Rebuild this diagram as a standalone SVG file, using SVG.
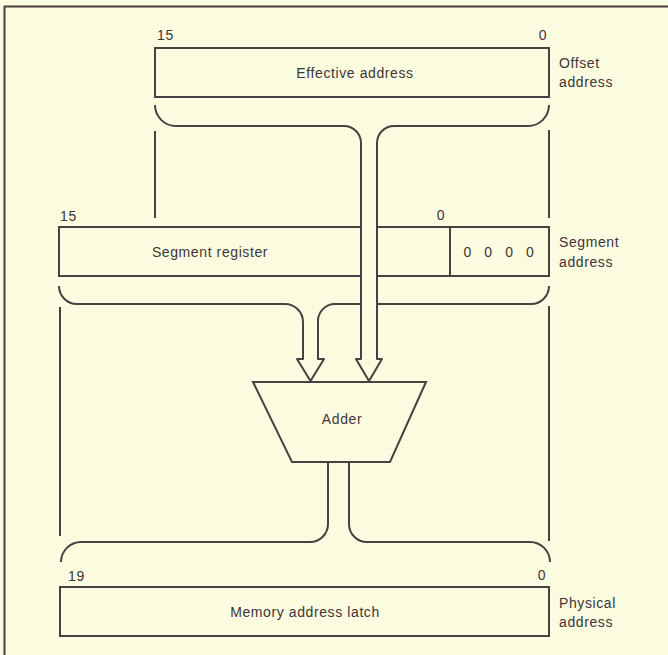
<svg xmlns="http://www.w3.org/2000/svg" width="668" height="655" viewBox="0 0 668 655">
<style>
.ln{fill:none;stroke:#4a3f41;stroke-width:2;stroke-linejoin:round}
.bx{fill:none;stroke:#4a3f41;stroke-width:2}
.t{font-family:"Liberation Sans",Arial,sans-serif;font-size:14px;fill:#3f3537;letter-spacing:0.6px}
.m{text-anchor:middle}
</style>
<rect width="668" height="655" fill="#fbfbe0"/>
<path class="ln" d="M4.5,655 V6.5 H668"/>

<g id="effective-address">
<rect class="bx" x="155" y="48" width="394" height="49"/>
<text class="t m" x="355" y="78">Effective address</text>
<text class="t" x="157" y="40">15</text>
<text class="t m" x="543" y="40">0</text>
<text class="t" x="559" y="68">Offset</text>
<text class="t" x="559" y="87">address</text>
</g>

<g id="segment-register">
<path class="bx" d="M59,227 H361 M377,227 H549 M59,276 H361 M377,276 H549 M59,226 V277 M549,226 V277 M450,227 V276"/>
<text class="t m" x="210" y="257">Segment register</text>
<text class="t" x="501" y="257" style="letter-spacing:4.6px" text-anchor="middle">0 0 0 0</text>
<text class="t" x="60" y="221">15</text>
<text class="t m" x="441" y="220">0</text>
<text class="t" x="559" y="247">Segment</text>
<text class="t" x="559" y="267">address</text>
</g>

<g id="adder">
<polygon class="bx" points="253,382 426,382 390,462 292,462"/>
<text class="t m" x="342" y="424">Adder</text>
</g>

<g id="memory-address-latch">
<rect class="bx" x="60" y="587" width="489" height="49"/>
<text class="t m" x="305" y="617">Memory address latch</text>
<text class="t" x="68" y="581">19</text>
<text class="t m" x="542" y="580">0</text>
<text class="t" x="559" y="608">Physical</text>
<text class="t" x="559" y="627">address</text>
</g>

<g id="connectors">
<!-- effective address brace and arrow -->
<path class="ln" d="M155,105 A21,21 0 0 0 176,126 H344 A17,17 0 0 1 361,143 V359 H356 L369,381 L382,359 H377 V143 A17,17 0 0 1 394,126 H528 A21,21 0 0 0 549,105"/>
<path class="ln" d="M155,131 V218 M549,130 V218"/>
<!-- segment brace and arrow -->
<path class="ln" d="M59,286 A18,18 0 0 0 77,304 H285 A18,18 0 0 1 303,322 V359 H297 L310.5,381 L324,359 H318 V322 A17,17 0 0 1 335,304 H361 M377,304 H531 A18,18 0 0 0 549,286"/>
<path class="ln" d="M60,307 V536 M549,306 V541"/>
<!-- adder output brace -->
<path class="ln" d="M328,462 V524 A18,18 0 0 1 310,542 H81 A20,20 0 0 0 61,562"/>
<path class="ln" d="M349,462 V524 A18,18 0 0 0 367,542 H530 A20,20 0 0 1 550,562"/>
</g>
</svg>
